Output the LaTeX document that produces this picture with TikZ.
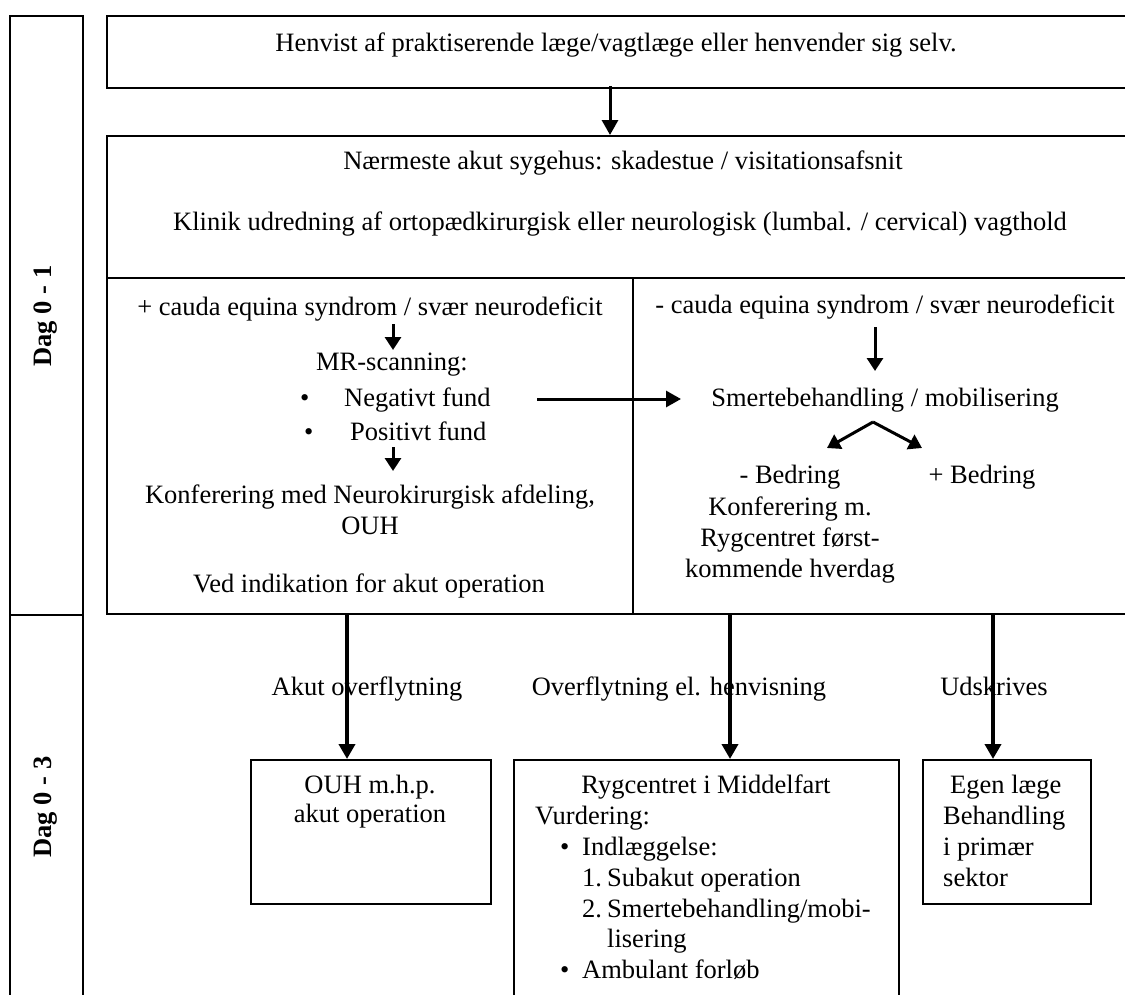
\documentclass[tikz,border=0pt]{standalone}
\usepackage{fontspec}
\setmainfont{Liberation Serif}
\usetikzlibrary{arrows.meta}
\tikzset{
  frame/.style={draw, line width=1.9pt, inner sep=0pt},
  txt/.style={inner sep=0pt, font=\fontsize{26.5}{31}\selectfont, anchor=base},
  ltxt/.style={txt, anchor=base west},
  daglab/.style={inner sep=0pt, rotate=90, font=\bfseries\fontsize{26.5}{30}\selectfont},
  bigarr/.style={line width=4pt, -{Triangle[length=15pt,width=16pt]}},
  smallarr/.style={line width=3pt, -{Triangle[length=13pt,width=16pt]}},
  midarr/.style={line width=3pt, -{Triangle[length=15pt,width=16pt]}},
  sep/.style={line width=1.9pt},
}
\begin{document}
\begin{tikzpicture}[x=1pt,y=-1pt]
\useasboundingbox (0,0) rectangle (1125,994);
\clip (0,0) rectangle (1125,994);

% left day column
\node[frame, anchor=north west, minimum width=73pt, minimum height=599pt] (col1) at (9,15) {};
\node[frame, anchor=north west, minimum width=73pt, minimum height=400pt] (col2) at (9,614) {};
\node[daglab] (dag1) at (46,316) {Dag 0 - 1};
\node[daglab] (dag2) at (46,807) {Dag 0 - 3};

% top box
\node[frame, anchor=north west, minimum width=1040pt, minimum height=72pt] (topbox) at (106,15) {};
\node[txt] (henvist) at (616,51) {Henvist af praktiserende læge/vagtlæge eller henvender sig selv.};

% main box
\node[frame, anchor=north west, minimum width=1040pt, minimum height=478pt] (mainbox) at (106,135) {};
\coordinate (dl) at (106,278);
\coordinate (dr) at (1146,278);
\draw[sep] (dl) -- (dr);
\coordinate (vt) at (633,278);
\coordinate (vb) at (633,613);
\draw[sep] (vt) -- (vb);

\coordinate (a0s) at (610,86);
\coordinate (a0e) at (610,135);
\draw[midarr] (a0s) -- (a0e);

\node[txt] (naermeste) at (623,169) {Nærmeste akut sygehus: skadestue / visitationsafsnit};
\node[txt] (klinik) at (620,230) {Klinik udredning af ortopædkirurgisk eller neurologisk (lumbal. / cervical) vagthold};

% left half
\node[txt] (pcauda) at (370,315) {+ cauda equina syndrom / svær neurodeficit};
\coordinate (s1s) at (393,324);
\coordinate (s1e) at (393,350);
\draw[smallarr] (s1s) -- (s1e);
\node[txt] (mr) at (392,370) {MR-scanning:};
\node[ltxt] (b1) at (300,406) {•};
\node[ltxt] (neg) at (344,406) {Negativt fund};
\node[ltxt] (b2) at (304,440) {•};
\node[ltxt] (pos) at (350,440) {Positivt fund};
\coordinate (s2s) at (393,447);
\coordinate (s2e) at (393,471);
\draw[smallarr] (s2s) -- (s2e);
\node[txt] (konf) at (370,503) {Konferering med Neurokirurgisk afdeling,};
\node[txt] (ouh) at (370,534) {OUH};
\node[txt] (ved) at (369,592) {Ved indikation for akut operation};

% right half
\node[txt] (mcauda) at (885,313) {- cauda equina syndrom / svær neurodeficit};
\coordinate (s3s) at (875,327);
\coordinate (s3e) at (875,371);
\draw[smallarr] (s3s) -- (s3e);
\node[txt] (smerte) at (885,406) {Smertebehandling / mobilisering};
\coordinate (ls) at (537,399);
\coordinate (le) at (681,399);
\draw[midarr] (ls) -- (le);
\coordinate (apex) at (873,422);
\coordinate (vl) at (827,448);
\coordinate (vr) at (922,448);
\draw[smallarr] (apex) -- (vl);
\draw[smallarr] (apex) -- (vr);
\node[txt] (mbed) at (790,483) {- Bedring};
\node[txt] (pbed) at (982,483) {+ Bedring};
\node[txt] (konfm) at (790,515) {Konferering m.};
\node[txt] (ryg1) at (790,546) {Rygcentret først-};
\node[txt] (ryg2) at (790,577) {kommende hverdag};

% lower arrows
\coordinate (l1s) at (347,613);
\coordinate (l1e) at (347,759);
\coordinate (l2s) at (730,613);
\coordinate (l2e) at (730,759);
\coordinate (l3s) at (993,613);
\coordinate (l3e) at (993,759);
\draw[bigarr] (l1s) -- (l1e);
\draw[bigarr] (l2s) -- (l2e);
\draw[bigarr] (l3s) -- (l3e);
\node[txt] (akut) at (367,695) {Akut overflytning};
\node[txt] (overfl) at (679,695) {Overflytning el. henvisning};
\node[txt] (udskr) at (994,695) {Udskrives};

% bottom boxes
\node[frame, anchor=north west, minimum width=240pt, minimum height=144pt] (ouhbox) at (250,759) {};
\node[txt] (ouh1) at (370,793) {OUH m.h.p.};
\node[txt] (ouh2) at (370,822) {akut operation};

\node[frame, anchor=north west, minimum width=385pt, minimum height=260pt] (rygbox) at (513,759) {};
\node[txt] (rc1) at (706,793) {Rygcentret i Middelfart};
\node[ltxt] (rc2) at (535,824) {Vurdering:};
\node[ltxt] (rc3b) at (560,855) {•};
\node[ltxt] (rc3) at (582,855) {Indlæggelse:};
\node[ltxt] (rc4n) at (582,886) {1.};
\node[ltxt] (rc4) at (607,886) {Subakut operation};
\node[ltxt] (rc5n) at (582,917) {2.};
\node[ltxt] (rc5) at (607,917) {Smertebehandling/mobi-};
\node[ltxt] (rc6) at (607,947) {lisering};
\node[ltxt] (rc7b) at (560,978) {•};
\node[ltxt] (rc7) at (582,978) {Ambulant forløb};

\node[frame, anchor=north west, minimum width=168pt, minimum height=144pt] (egenbox) at (922,759) {};
\node[ltxt] (eg1) at (950,793) {Egen læge};
\node[ltxt] (eg2) at (943,824) {Behandling};
\node[ltxt] (eg3) at (943,855) {i primær};
\node[ltxt] (eg4) at (943,886) {sektor};
\end{tikzpicture}
\end{document}
